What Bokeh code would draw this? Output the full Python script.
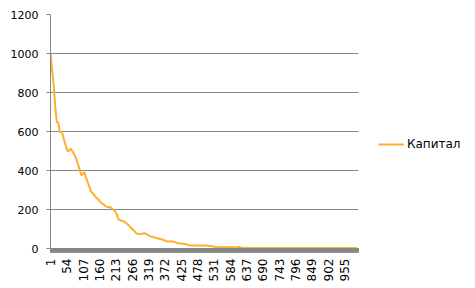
import math
from bokeh.plotting import figure
from bokeh.models import FixedTicker, Range1d, Legend, LegendItem
from bokeh.embed import file_html
from bokeh.resources import INLINE

# Categories on the x axis (1..1000) and the labelled ones
categories = list(range(1, 1001))
tick_labels = [1, 54, 107, 160, 213, 266, 319, 372, 425, 478, 531, 584,
               637, 690, 743, 796, 849, 902, 955]
y_ticks = [0, 200, 400, 600, 800, 1000, 1200]

# Series "Капитал" at every 5th category (1, 6, 11, ...)
kapital = [
    1000, 908, 835, 725, 648, 645, 595, 600, 580, 548,
    522, 498, 502, 512, 500, 488, 472, 450, 425, 400,
    374, 385, 390, 362, 340, 320, 295, 286, 278, 266,
    258, 252, 240, 233, 228, 222, 215, 212, 213, 210,
    204, 196, 190, 175, 150, 146, 143, 140, 137, 130,
    124, 116, 108, 100, 92, 84, 76, 75, 74, 75,
    77, 78, 76, 70, 65, 62, 60, 57, 55, 53,
    51, 49, 47, 44, 41, 37, 36, 36, 37, 36,
    34, 32, 29, 27, 26, 25, 24, 23, 21, 19,
    17, 16, 16, 15, 15, 15, 15, 15, 15, 15,
    15, 15, 14, 13, 12, 11, 10, 8, 7, 7,
    7, 7, 7, 7, 6, 6, 6, 6, 6, 6,
    5, 6, 9, 7, 4, 3, 3, 3, 3, 3,
    2, 2, 2, 3, 2, 2, 2, 2, 2, 2,
    2, 2, 2, 2, 2, 2, 2, 2, 2, 2,
    2, 2, 2, 2, 2, 2, 2, 2, 2, 2,
    2, 2, 2, 2, 2, 2, 2, 2, 2, 2,
    2, 2, 2, 2, 2, 2, 2, 2, 2, 2,
    2, 2, 2, 2, 2, 2, 2, 2, 2, 2,
    2, 2, 2, 2, 2, 2, 2, 2, 2, 2,
]
series_name = "Капитал"

x_vals = categories[::5][:len(kapital)]

GRAY = "#868686"
FONT = "DejaVu Sans"

p = figure(frame_width=308, frame_height=234, output_backend="svg",
           toolbar_location=None,
           x_range=Range1d(0.5, len(categories) + 0.5), y_range=Range1d(0, 1200),
           min_border_left=50, min_border_right=117, min_border_top=14,
           min_border_bottom=40)
p.outline_line_color = None
p.background_fill_color = "white"
p.border_fill_color = "white"

r = p.line(x_vals, kapital, line_color="#FBB12E", line_width=2)

# x axis
xa = p.xaxis[0]
xa.ticker = FixedTicker(ticks=tick_labels, minor_ticks=categories)
xa.axis_line_color = GRAY
xa.major_tick_line_color = GRAY
xa.minor_tick_line_color = GRAY
xa.major_tick_in = 0
xa.major_tick_out = 4
xa.minor_tick_in = 0
xa.minor_tick_out = 4
xa.major_label_orientation = math.pi / 2
xa.major_label_standoff = 6
xa.major_label_text_font = FONT
xa.major_label_text_font_size = "12px"
xa.major_label_text_color = "#000000"

# y axis
ya = p.yaxis[0]
ya.ticker = FixedTicker(ticks=y_ticks)
ya.axis_line_color = GRAY
ya.major_tick_line_color = GRAY
ya.minor_tick_line_color = None
ya.major_tick_in = 0
ya.major_tick_out = 4
ya.major_label_standoff = 8
ya.major_label_text_font = FONT
ya.major_label_text_font_size = "11px"
ya.major_label_text_color = "#000000"

p.xgrid.grid_line_color = None
p.ygrid.grid_line_color = GRAY
p.ygrid.grid_line_width = 1

legend = Legend(items=[LegendItem(label=series_name, renderers=[r])],
                location=(20, 94), padding=0, margin=0,
                glyph_width=26, glyph_height=20, label_standoff=3,
                label_text_font=FONT, label_text_font_size="12px",
                label_text_color="#000000",
                border_line_color=None, background_fill_alpha=0)
p.add_layout(legend, "right")

open("out.html", "w").write(file_html(p, INLINE))
